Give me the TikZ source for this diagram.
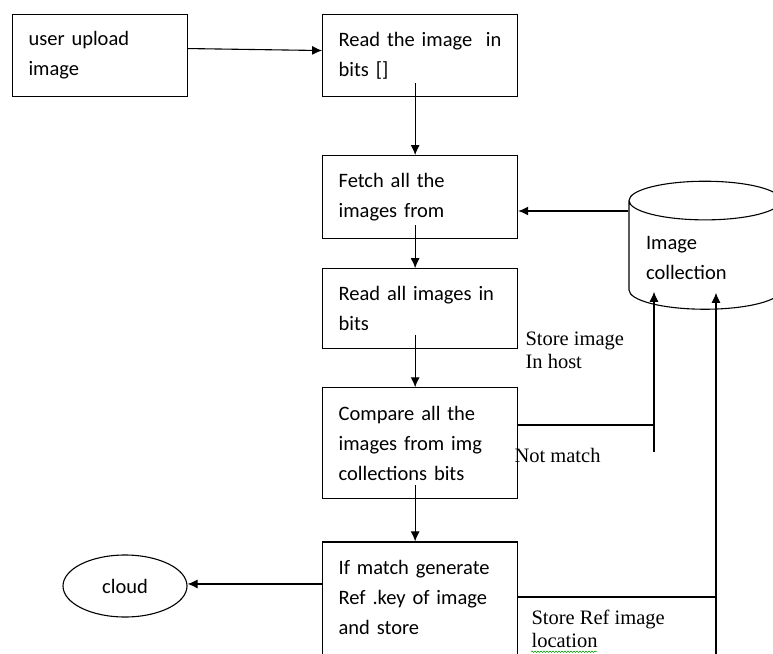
\documentclass[tikz,border=0pt]{standalone}
\usepackage{fontspec}
\setmainfont{Carlito}
\newfontfamily\notefont{Liberation Serif}
\usepackage{tikz}
\usetikzlibrary{positioning, arrows.meta, shapes.geometric, decorations.pathmorphing}

\begin{document}
\begin{tikzpicture}[
  x=1pt, y=-1pt,
  font=\fontsize{20.5}{30}\selectfont,
  line width=1.1pt,
  stepbox/.style={draw, align=left, inner xsep=16pt, inner ysep=0pt,
    text width=163pt},
  note/.style={font=\notefont\fontsize{20.5}{23}\selectfont, align=left,
    inner sep=0pt, anchor=north west},
  arrow/.style={-{Latex[length=10pt, width=9pt]}},
]
  \useasboundingbox (0,0) rectangle (773,653);

  % main column
  \node[stepbox, text width=143pt, minimum height=82pt, anchor=north west]
    (upload) at (12,14) {user upload\\image};
  \node[stepbox, minimum height=82pt, right=134pt of upload] (readone)
    {Read the image~ in\\bits []};
  \node[stepbox, minimum height=83pt, below=58pt of readone] (fetch)
    {Fetch all the\\images from};
  \node[stepbox, minimum height=80pt, below=29pt of fetch] (readall)
    {Read all images in\\bits};
  \node[stepbox, minimum height=111pt, below=38pt of readall] (compare)
    {Compare all the\\images from img\\collections bits};
  \node[stepbox, minimum height=140pt, below=42pt of compare] (refkey)
    {If match generate\\Ref .key of image\\and store\\\mbox{}};

  % store and cloud
  \node[draw, cylinder, shape border rotate=90, shape aspect=0.31,
    minimum width=152pt, minimum height=128pt, text width=118pt, align=left]
    (coll) at (705,258) {Image\\collection};
  \node[draw, ellipse, minimum width=124pt, minimum height=62pt, inner sep=0pt]
    (cloud) at (125,586) {cloud};

  % labels
  \node[note] (host) at (525,331) {Store image\\In host};
  \node[note] (nomatch) at (514,448) {Not match};
  \node[note] (refloc) at (531,610) {Store Ref image\\location};
  \draw[green!60!black, line width=0.5pt,
    decorate, decoration={snake, amplitude=0.8pt, segment length=3pt}]
    ([yshift=-3pt]refloc.south west) -- ++(66,0);

  % arrows down the column
  \draw[arrow] ([yshift=7pt]upload.east) -- ([yshift=5pt]readone.west);
  \foreach \a/\b in {readone/fetch, fetch/readall, readall/compare, compare/refkey}
    \draw[arrow] ([xshift=-5pt, yshift=14pt]\a.south) -- ([xshift=-5pt]\b.north);

  \draw[arrow] ([yshift=47pt]coll.west) -- ([yshift=47pt]coll.west -| fetch.east);
  \draw[arrow] ([yshift=28pt]refkey.west) -- ([yshift=28pt]refkey.west -| cloud.east);

  % back to the store
  \coordinate (nmturn) at (654,425);
  \coordinate (nmtail) at (654,452);
  \draw (compare.east |- nmturn) -- (nmturn);
  \draw[arrow] (nmtail) -- ([yshift=18pt]coll.south -| nmtail);

  \coordinate (srturn) at (716,597);
  \coordinate (srtail) at (716,670);
  \draw (refkey.east |- srturn) -- (srturn);
  \draw[arrow] (srtail) -- ([yshift=17pt]coll.south -| srtail);
\end{tikzpicture}
\end{document}
